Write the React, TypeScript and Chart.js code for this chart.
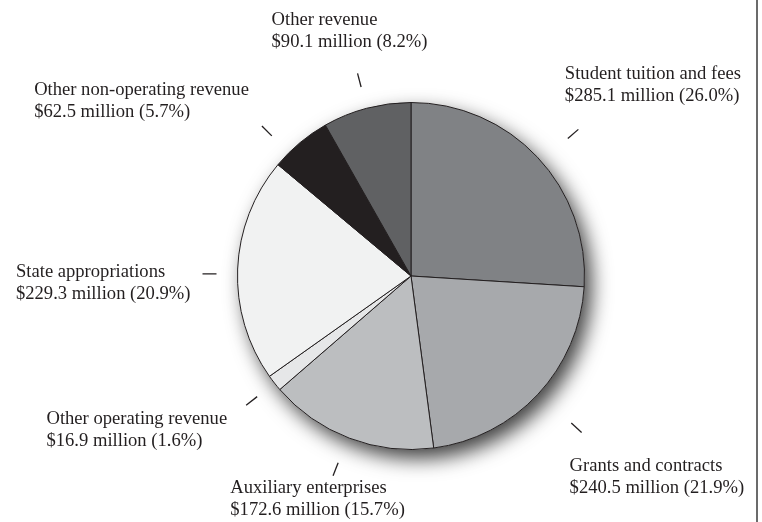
import React, { useEffect, useRef } from "react";
import { Chart, registerables } from "chart.js";

Chart.register(...registerables);

const categories = [
  "Student tuition and fees",
  "Grants and contracts",
  "Auxiliary enterprises",
  "Other operating revenue",
  "State appropriations",
  "Other non-operating revenue",
  "Other revenue",
];
const valuesMillions = [285.1, 240.5, 172.6, 16.9, 229.3, 62.5, 90.1];
const percentLabels = ["26.0%", "21.9%", "15.7%", "1.6%", "20.9%", "5.7%", "8.2%"];
const sliceColors = ["#808285", "#a7a9ac", "#bcbec0", "#e6e7e8", "#f1f2f2", "#231f20", "#606163"];

// Leader tick + label block placement (layout only):
// gap = distance of tick's inner end beyond the pie rim, rot = angle tweak in degrees,
// anchor/dx/dy = label block position relative to tick's outer end (dy = first line middle)
const labelPlacement: {
  gap: number;
  rot: number;
  anchor: "left" | "right" | "center";
  dx: number;
  dy: number;
}[] = [
  { gap: 35, rot: 2, anchor: "left", dx: -13.5, dy: -55 },
  { gap: 44, rot: -0.5, anchor: "left", dx: -12, dy: 33.5 },
  { gap: 27, rot: 0.5, anchor: "center", dx: -15.5, dy: 12 },
  { gap: 22, rot: 0, anchor: "right", dx: -19, dy: 14 },
  { gap: 21, rot: -1.7, anchor: "right", dx: -12, dy: -2 },
  { gap: 24, rot: -5, anchor: "right", dx: -13, dy: -36 },
  { gap: 22, rot: 0, anchor: "center", dx: -8, dy: -53.5 },
];

const TICK_LEN = 14;
const LINE_GAP = 22;
const FONT = '18.6px "Liberation Serif", "Times New Roman", serif';
const TEXT_COLOR = "#231f20";

const piePlugin = {
  id: "pieDecor",
  beforeDatasetsDraw(chart: any) {
    const meta = chart.getDatasetMeta(0);
    const a = meta.data[0];
    if (!a) return;
    const { x, y, outerRadius } = a.getProps(["x", "y", "outerRadius"], true);
    const ctx = chart.ctx;
    ctx.save();
    ctx.shadowColor = "rgba(0,0,0,0.75)";
    ctx.shadowBlur = 20;
    ctx.shadowOffsetX = 7;
    ctx.shadowOffsetY = 9;
    ctx.beginPath();
    ctx.arc(x, y, outerRadius, 0, Math.PI * 2);
    ctx.fillStyle = "#ffffff";
    ctx.fill();
    ctx.restore();
  },
  afterDatasetsDraw(chart: any) {
    const meta = chart.getDatasetMeta(0);
    const ctx = chart.ctx;
    ctx.save();
    ctx.font = FONT;
    ctx.textBaseline = "middle";
    ctx.textAlign = "left";
    meta.data.forEach((arc: any, i: number) => {
      const { x, y, outerRadius, startAngle, endAngle } = arc.getProps(
        ["x", "y", "outerRadius", "startAngle", "endAngle"],
        true
      );
      const p = labelPlacement[i];
      const mid = (startAngle + endAngle) / 2 + (p.rot * Math.PI) / 180;
      const r1 = outerRadius + p.gap;
      const r2 = r1 + TICK_LEN;
      const ix = x + Math.cos(mid) * r1;
      const iy = y + Math.sin(mid) * r1;
      const ox = x + Math.cos(mid) * r2;
      const oy = y + Math.sin(mid) * r2;
      ctx.beginPath();
      ctx.moveTo(ix, iy);
      ctx.lineTo(ox, oy);
      ctx.strokeStyle = TEXT_COLOR;
      ctx.lineWidth = 1.3;
      ctx.stroke();

      const lines = [
        categories[i],
        `$${valuesMillions[i].toFixed(1)} million (${percentLabels[i]})`,
      ];
      const w = Math.max(...lines.map((l) => ctx.measureText(l).width));
      let left = ox + p.dx;
      if (p.anchor === "right") left = ox + p.dx - w;
      if (p.anchor === "center") left = ox + p.dx - w / 2;
      const top = oy + p.dy;
      ctx.fillStyle = TEXT_COLOR;
      lines.forEach((l, k) => ctx.fillText(l, left, top + k * LINE_GAP));
    });
    ctx.restore();
  },
  afterDraw(chart: any) {
    const ctx = chart.ctx;
    ctx.save();
    ctx.beginPath();
    ctx.moveTo(757, 0);
    ctx.lineTo(757, chart.height);
    ctx.strokeStyle = "#3a3a3a";
    ctx.lineWidth = 1.5;
    ctx.stroke();
    ctx.restore();
  },
};

export default function App() {
  const canvasRef = useRef<HTMLCanvasElement | null>(null);

  useEffect(() => {
    document.body.style.margin = "0";
    const canvas = canvasRef.current;
    if (!canvas) return;
    const chart = new Chart(canvas, {
      type: "pie",
      data: {
        labels: categories,
        datasets: [
          {
            data: valuesMillions,
            backgroundColor: sliceColors,
            borderColor: "#231f20",
            borderWidth: 1,
          },
        ],
      },
      options: {
        animation: false,
        responsive: true,
        maintainAspectRatio: false,
        layout: { padding: { left: 237, right: 177, top: 102, bottom: 72 } },
        plugins: {
          legend: { display: false },
          tooltip: { enabled: false },
        },
      },
      plugins: [piePlugin],
    });
    return () => chart.destroy();
  }, []);

  return (
    <div style={{ width: 762, height: 522, position: "relative", background: "#fff" }}>
      <canvas ref={canvasRef} />
    </div>
  );
}
